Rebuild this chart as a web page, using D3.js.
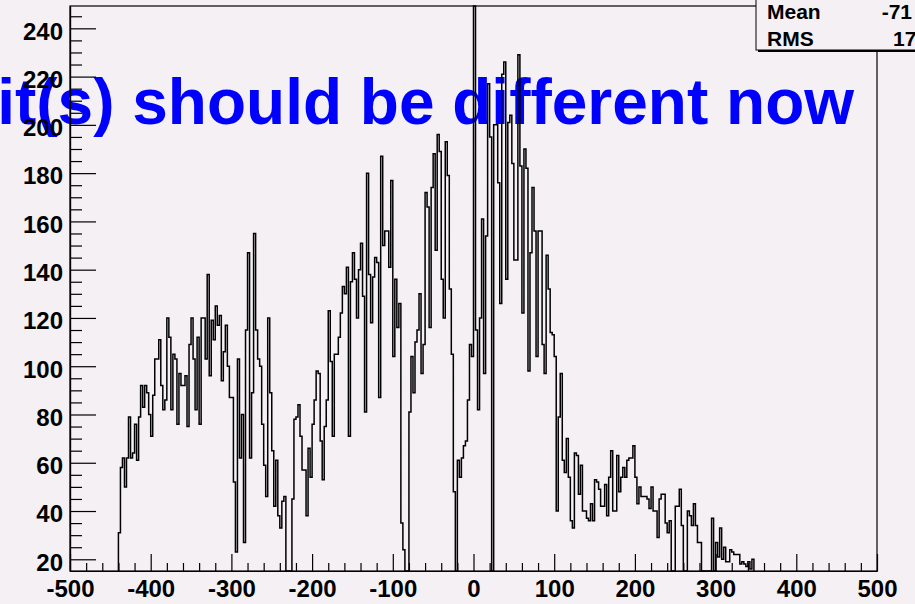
<!DOCTYPE html>
<html><head><meta charset="utf-8">
<script src="https://cdn.jsdelivr.net/npm/d3@7"></script>
<style>
html,body{margin:0;padding:0;background:#f4f0f4;overflow:hidden;}
svg{display:block;}
text{font-family:"Liberation Sans",Arial,Helvetica,sans-serif;font-weight:bold;}
</style></head><body>
<svg id="chart" width="915" height="604"></svg>
<script>
// ---- data ----
const xDomain = [-500, 500];
const yDomain = [15.15, 249.25];
const binWidth = 2.5;
const firstBinLow = -440;
const counts = [
  31,58,62,50,62,79,62,64,76,61,
  79,92,83,92,89,80,71,88,103,103,
  111,92,82,86,120,112,82,105,103,76,
  97,92,92,96,75,109,120,103,82,112,
  76,120,120,103,138,96,119,111,125,117,
  121,94,106,117,100,87,87,52,23,103,
  62,80,27,115,147,62,89,155,115,103,
  100,76,59,46,120,89,65,42,61,38,
  33,44,46,0,0,0,45,78,79,84,
  71,57,57,38,66,54,76,86,98,97,
  69,53,75,86,123,102,71,105,105,112,
  122,133,130,141,71,135,147,136,120,140,
  151,129,81,180,138,118,137,145,143,87,
  187,150,156,156,141,177,104,136,116,126,
  35,24,0,0,81,104,89,110,115,130,
  97,109,172,166,116,174,188,148,196,189,
  136,120,193,179,132,105,48,0,61,54,
  62,67,69,86,109,104,420,115,82,120,
  161,97,154,217,195,0,200,200,176,126,
  221,226,136,201,204,184,144,144,229,183,
  122,190,182,98,147,174,156,104,156,156,
  109,97,146,132,114,113,104,40,79,97,
  61,56,70,54,36,33,64,63,47,59,
  40,40,37,36,43,36,53,52,49,42,
  42,51,38,54,65,40,40,63,48,54,
  58,54,61,62,62,67,54,43,50,46,
  46,46,45,41,50,40,40,29,45,47,
  47,35,31,36,0,0,42,42,49,34,
  0,0,40,38,34,43,34,27,27,0,
  0,0,0,0,37,14,27,21,33,20,
  25,19,19,24,23,22,22,22,18,19,
  18,17,19,16,20
];
const xMajorTicks = [-500,-400,-300,-200,-100,0,100,200,300,400,500];
const yMajorTicks = [20,40,60,80,100,120,140,160,180,200,220,240];
const statsLabels = ["Mean","RMS"];
const statsValues = ["-71","175.8"];
const overlayText = "it(s) should be different now";

// ---- layout ----
const frame = {left:70, right:877, top:6, bottom:571};
const bg = "#f4f0f4";
const svg = d3.select("#chart");
svg.append("rect").attr("width",915).attr("height",604).attr("fill",bg);

const x = d3.scaleLinear().domain(xDomain).range([frame.left, frame.right]);
const y = d3.scaleLinear().domain(yDomain).range([frame.bottom, frame.top]).clamp(true);

// overlay text (drawn beneath everything else)
svg.append("text")
  .attr("x", 854).attr("y", 124)
  .attr("text-anchor","end")
  .attr("font-size", 64)
  .attr("fill","#0000ff")
  .text(overlayText);

// frame
svg.append("rect")
  .attr("x",frame.left).attr("y",frame.top)
  .attr("width",frame.right-frame.left).attr("height",frame.bottom-frame.top)
  .attr("fill","none").attr("stroke","#000").attr("stroke-width",1.2);

// histogram step line
const pts = [[firstBinLow, yDomain[0]]];
counts.forEach((c,i)=>{
  const lo = firstBinLow + i*binWidth, hi = lo + binWidth;
  pts.push([lo,c],[hi,c]);
});
pts.push([firstBinLow + counts.length*binWidth, yDomain[0]]);
const line = d3.line().x(d=>x(d[0])).y(d=>y(d[1]));
svg.append("path").attr("d", line(pts))
  .attr("fill","none").attr("stroke","#000").attr("stroke-width",1.5);

// axes
const xMinor = d3.range(-500, 501, 20).filter(v=>v%100!==0);
const yMinor = d3.range(20, 250, 5).filter(v=>v%20!==0);
const plainFmt = d => String(d);

const gx = svg.append("g").attr("transform",`translate(0,${frame.bottom})`);
gx.append("g").call(d3.axisTop(x).tickValues(xMajorTicks).tickSize(17).tickSizeOuter(0).tickFormat(""));
gx.append("g").call(d3.axisTop(x).tickValues(xMinor).tickSize(8).tickSizeOuter(0).tickFormat(""));
gx.append("g").call(d3.axisBottom(x).tickValues(xMajorTicks).tickSize(0).tickPadding(9).tickFormat(plainFmt))
  .call(g=>g.select(".domain").remove());

const gy = svg.append("g").attr("transform",`translate(${frame.left},0)`);
gy.append("g").call(d3.axisRight(y).tickValues(yMajorTicks).tickSize(26).tickSizeOuter(0).tickFormat(""));
gy.append("g").call(d3.axisRight(y).tickValues(yMinor).tickSize(12).tickSizeOuter(0).tickFormat(""));
gy.append("g").call(d3.axisLeft(y).tickValues(yMajorTicks).tickSize(0).tickPadding(7).tickFormat(plainFmt))
  .call(g=>g.select(".domain").remove());

svg.selectAll(".tick line").attr("stroke","#000").attr("stroke-width",1.2);
svg.selectAll(".domain").attr("stroke","#000").attr("stroke-width",1.2);
svg.selectAll(".tick text")
  .attr("fill","#000")
  .style("font-family",'"Liberation Sans",Arial,Helvetica,sans-serif')
  .style("font-weight","bold")
  .style("font-size","24px");
gy.selectAll(".tick text").attr("dy","0.45em");

// stats box (clipped by the page edge)
svg.append("rect").attr("x",758).attr("y",-30).attr("width",200).attr("height",82).attr("fill","#000");
svg.append("rect").attr("x",756).attr("y",-30).attr("width",200).attr("height",80)
  .attr("fill",bg).attr("stroke","#000").attr("stroke-width",1);
const rowsY = [18.5, 45.7];
const valX = [881.7, 893];
statsLabels.forEach((s,i)=>{
  svg.append("text").attr("x",767).attr("y",rowsY[i]).attr("font-size",21).attr("fill","#000").text(s);
  svg.append("text").attr("x",valX[i]).attr("y",rowsY[i]).attr("font-size",21).attr("fill","#000").text(statsValues[i]);
});
</script>
</body></html>
